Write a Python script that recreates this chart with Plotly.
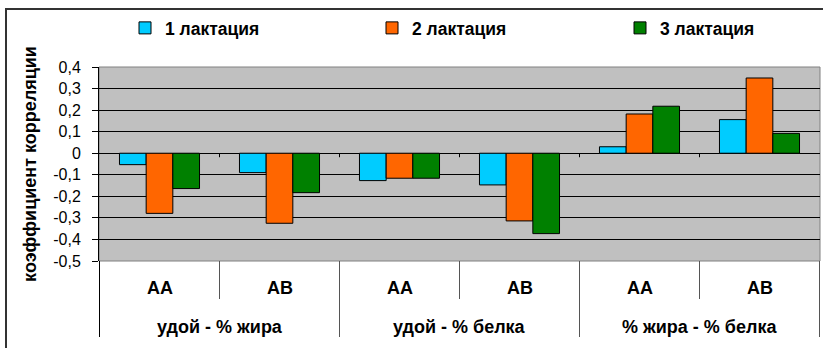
import plotly.graph_objects as go

# Trait pairs (outer level) and genotypes (inner level)
pairs = ["удой - % жира", "удой - % жира",
         "удой - % белка", "удой - % белка",
         "% жира - % белка", "% жира - % белка"]
genotypes = ["AA", "AB", "AA", "AB", "AA", "AB"]

series_names = ["1 лактация", "2 лактация", "3 лактация"]
lact1 = [-0.053, -0.090, -0.127, -0.147, 0.030, 0.156]
lact2 = [-0.279, -0.325, -0.116, -0.314, 0.182, 0.349]
lact3 = [-0.164, -0.183, -0.116, -0.373, 0.218, 0.092]
colors = ["#00CCFF", "#FF6600", "#008000"]

y_ticks = [-0.5, -0.4, -0.3, -0.2, -0.1, 0, 0.1, 0.2, 0.3, 0.4]
y_tick_labels = ["-0,5", "-0,4", "-0,3", "-0,2", "-0,1", "0", "0,1", "0,2", "0,3", "0,4"]
y_title = "коэффициент корреляции"

FONT = "Liberation Sans, Arial, sans-serif"

W, H = 823, 348
L, R, T, B = 99, 3, 67, 87
pw, ph = W - L - R, H - T - B


def px_to_paper_x(px):
    return (px - L) / pw


def px_to_paper_y(py):
    return 1 - (py - T) / ph


fig = go.Figure()
legend_ids = ["legend", "legend2", "legend3"]
for name, vals, col, lg in zip(series_names, [lact1, lact2, lact3], colors, legend_ids):
    fig.add_trace(go.Bar(
        x=[pairs, genotypes], y=vals, name=name, legend=lg,
        marker=dict(color=col, line=dict(color="#000000", width=1)),
    ))

n = len(genotypes)
shapes = []
annotations = []
# gray frame around the plotting area
shapes.append(dict(type="rect", xref="paper", yref="paper", x0=0, x1=1, y0=0, y1=1,
                   line=dict(color="#808080", width=1), layer="below"))
# small ticks on the zero line at category boundaries
for i in range(n - 1):
    shapes.append(dict(type="line", xref="x", yref="y", x0=i + 0.5, x1=i + 0.5,
                       ysizemode="pixel", yanchor=0, y0=0, y1=-4,
                       line=dict(color="#000000", width=1)))
# category dividers below the plot: short between genotypes, long between trait pairs
for i in range(n + 1):
    outer = i == 0 or i == n or pairs[i - 1] != pairs[i]
    shapes.append(dict(type="line", xref="x", yref="paper", x0=i - 0.5, x1=i - 0.5,
                       y0=0, y1=px_to_paper_y(337 if outer else 299),
                       line=dict(color="#000000" if i == 0 else "#555555", width=1)))
# genotype labels
for i, g in enumerate(genotypes):
    annotations.append(dict(xref="x", yref="paper", x=i, y=px_to_paper_y(288),
                            text=g, showarrow=False, yanchor="middle",
                            font=dict(family=FONT, size=18, weight="bold")))
# trait pair labels centred over their genotypes
seen = []
for p in pairs:
    if p not in seen:
        seen.append(p)
for p in seen:
    idx = [i for i, q in enumerate(pairs) if q == p]
    annotations.append(dict(xref="x", yref="paper", x=sum(idx) / len(idx),
                            y=px_to_paper_y(327), text=p, showarrow=False,
                            yanchor="middle",
                            font=dict(family=FONT, size=18, weight="bold")))
# outer chart border
shapes.append(dict(type="rect", xref="paper", yref="paper",
                   x0=px_to_paper_x(6), x1=px_to_paper_x(832),
                   y0=px_to_paper_y(360), y1=px_to_paper_y(9),
                   line=dict(color="#333333", width=2)))

legend_style = dict(orientation="h", xanchor="left", yanchor="middle",
                    y=px_to_paper_y(28),
                    font=dict(family=FONT, size=17.5, weight="bold"),
                    itemwidth=30, bgcolor="rgba(0,0,0,0)")

fig.update_layout(
    width=W, height=H,
    margin=dict(l=L, r=R, t=T, b=B),
    paper_bgcolor="#FFFFFF",
    plot_bgcolor="#C0C0C0",
    barmode="group", bargap=0.333, bargroupgap=0,
    font=dict(family=FONT, color="#000000", size=14),
    showlegend=True,
    legend=dict(legend_style, x=px_to_paper_x(125)),
    legend2=dict(legend_style, x=px_to_paper_x(372)),
    legend3=dict(legend_style, x=px_to_paper_x(620)),
    shapes=shapes,
    annotations=annotations,
)

fig.update_yaxes(
    range=[-0.5, 0.4], tickvals=y_ticks, ticktext=y_tick_labels,
    showgrid=True, gridcolor="#000000", gridwidth=1,
    zeroline=True, zerolinecolor="#000000", zerolinewidth=1,
    showline=True, linecolor="#000000", linewidth=1,
    ticks="outside", ticklen=6, tickcolor="#000000",
    ticklabelstandoff=8,
    tickfont=dict(family=FONT, size=16),
    title=dict(text=y_title, font=dict(family=FONT, size=18, weight="bold"), standoff=11),
)

fig.update_xaxes(
    type="multicategory",
    showgrid=False, showline=False,
    ticks="", showdividers=False, showticklabels=False,
)

fig.write_html("out.html")
